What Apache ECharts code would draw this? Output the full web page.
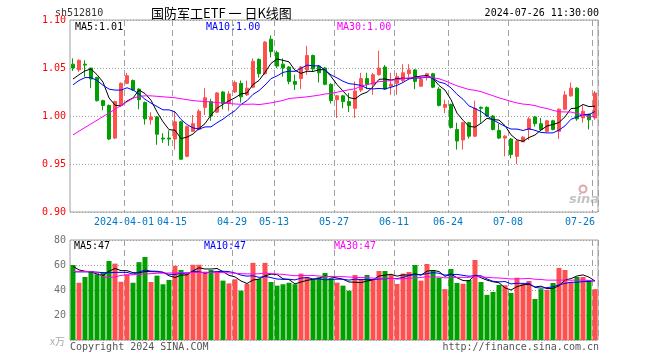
<!DOCTYPE html>
<html><head><meta charset="utf-8">
<script src="https://cdn.jsdelivr.net/npm/echarts@6/dist/echarts.min.js"></script>
<style>html,body{margin:0;padding:0;background:#fff}#c{width:660px;height:360px}</style>
</head><body><div id="c"></div>
<script>
const dates = [
'2024-03-19','2024-03-20','2024-03-21','2024-03-22','2024-03-25','2024-03-26','2024-03-27','2024-03-28','2024-03-29',
'2024-04-01','2024-04-02','2024-04-03','2024-04-08','2024-04-09','2024-04-10','2024-04-11','2024-04-12','2024-04-15','2024-04-16','2024-04-17','2024-04-18','2024-04-19','2024-04-22','2024-04-23','2024-04-24','2024-04-25','2024-04-26','2024-04-29','2024-04-30',
'2024-05-06','2024-05-07','2024-05-08','2024-05-09','2024-05-10','2024-05-13','2024-05-14','2024-05-15','2024-05-16','2024-05-17','2024-05-20','2024-05-21','2024-05-22','2024-05-23','2024-05-24','2024-05-27','2024-05-28','2024-05-29','2024-05-30','2024-05-31',
'2024-06-03','2024-06-04','2024-06-05','2024-06-06','2024-06-07','2024-06-11','2024-06-12','2024-06-13','2024-06-14','2024-06-17','2024-06-18','2024-06-19','2024-06-20','2024-06-21','2024-06-24','2024-06-25','2024-06-26','2024-06-27','2024-06-28',
'2024-07-01','2024-07-02','2024-07-03','2024-07-04','2024-07-05','2024-07-08','2024-07-09','2024-07-10','2024-07-11','2024-07-12','2024-07-15','2024-07-16','2024-07-17','2024-07-18','2024-07-19','2024-07-22','2024-07-23','2024-07-24','2024-07-25','2024-07-26'];

const opens = [1.054,1.048,1.054,1.050,1.040,1.016,1.011,0.977,1.011,1.034,
1.037,1.028,1.014,0.996,0.999,0.977,0.977,0.976,0.994,0.958,
0.984,0.986,1.009,1.015,1.004,1.025,1.013,1.025,1.034,1.022,
1.030,1.059,1.044,1.080,1.066,1.054,1.051,1.036,1.039,1.048,
1.063,1.052,1.050,1.033,1.017,1.021,1.015,1.008,1.027,1.039,
1.033,1.043,1.051,1.031,1.034,1.037,1.044,1.048,1.031,1.042,
1.044,1.028,1.009,1.012,0.986,0.975,0.993,0.979,1.009,1.009,
1.000,0.985,0.977,0.976,0.958,0.973,0.986,0.999,0.992,0.984,
0.995,0.984,1.007,1.021,1.029,0.998,1.002,0.998];
const closes = [1.050,1.058,1.053,1.0385,1.016,1.011,0.976,1.015,1.034,1.042,
1.027,1.017,0.997,0.999,0.981,0.976,0.976,0.994,0.955,0.989,
0.992,1.005,1.019,1.000,1.024,1.013,1.023,1.035,1.020,1.029,
1.057,1.044,1.077,1.067,1.052,1.050,1.036,1.033,1.051,1.063,
1.049,1.045,1.033,1.016,1.021,1.015,1.011,1.026,1.039,1.033,
1.043,1.050,1.028,1.033,1.041,1.045,1.048,1.036,1.038,1.044,
1.030,1.011,1.012,0.988,0.974,0.993,0.979,1.008,1.008,1.000,
0.986,0.977,0.979,0.960,0.974,0.978,0.997,0.992,0.986,0.995,
0.986,1.007,1.022,1.029,0.997,1.005,0.996,1.024];
const lows = [1.047,1.046,1.041,1.029,1.015,1.006,0.975,0.976,1.010,1.033,
1.026,1.007,0.991,0.991,0.970,0.972,0.969,0.965,0.9545,0.957,
0.984,0.985,1.001,0.995,1.003,1.007,1.005,1.024,1.014,1.021,
1.029,1.040,1.043,1.061,1.050,1.041,1.033,1.027,1.028,1.043,
1.046,1.035,1.032,1.013,0.998,1.008,1.004,0.998,1.025,1.028,
1.022,1.042,1.027,1.022,1.022,1.035,1.040,1.028,1.031,1.037,
1.029,1.010,1.003,0.987,0.965,0.965,0.9765,0.978,0.993,0.999,
0.985,0.976,0.958,0.956,0.950,0.973,0.975,0.989,0.985,0.983,
0.985,0.976,1.006,1.020,0.995,0.993,0.986,0.996];
const highs = [1.060,1.059,1.058,1.050,1.041,1.017,1.012,1.016,1.035,1.045,
1.038,1.029,1.015,1.004,1.000,0.982,0.985,1.005,0.995,0.990,
1.001,1.007,1.029,1.018,1.025,1.026,1.026,1.037,1.037,1.037,
1.060,1.060,1.078,1.084,1.068,1.060,1.052,1.043,1.052,1.073,
1.064,1.053,1.051,1.034,1.022,1.022,1.024,1.036,1.045,1.045,
1.045,1.068,1.053,1.045,1.045,1.054,1.054,1.049,1.041,1.045,
1.045,1.030,1.017,1.013,0.993,0.994,0.994,1.016,1.010,1.010,
1.001,0.992,0.980,0.977,0.975,0.979,0.999,1.000,0.998,0.996,
0.996,1.008,1.026,1.035,1.030,1.011,1.002,1.026];
const ma5 = [1.0385,1.0430,1.0470,1.0490,1.0431,1.0353,1.0189,1.0113,1.0104,1.0156,
1.0188,1.0270,1.0234,1.0164,1.0042,0.9940,0.9858,0.9852,0.9764,0.9780,
0.9812,0.9870,0.9920,1.0010,1.0080,1.0122,1.0158,1.0190,1.0230,1.0240,
1.0328,1.0370,1.0454,1.0548,1.0594,1.0580,1.0564,1.0476,1.0444,1.0466,
1.0464,1.0482,1.0482,1.0412,1.0328,1.0260,1.0192,1.0178,1.0224,1.0248,
1.0304,1.0382,1.0386,1.0374,1.0390,1.0394,1.0390,1.0406,1.0416,1.0422,
1.0392,1.0318,1.0270,1.0170,1.0030,0.9956,0.9892,0.9884,0.9924,0.9976,
0.9962,0.9958,0.9900,0.9804,0.9752,0.9736,0.9776,0.9802,0.9854,0.9896,
0.9912,0.9932,0.9992,1.0078,1.0082,1.0120,1.0098,1.0102];
const ma10 = [1.0325,1.0370,1.0400,1.0400,1.0370,1.0320,1.0280,1.0270,1.0270,1.0294,
1.0271,1.0230,1.0174,1.0134,1.0099,1.0064,1.0064,1.0043,0.9964,0.9911,
0.9876,0.9864,0.9886,0.9887,0.9930,0.9967,1.0014,1.0055,1.0120,1.0160,
1.0225,1.0264,1.0322,1.0389,1.0417,1.0454,1.0467,1.0465,1.0496,1.0530,
1.0522,1.0523,1.0479,1.0428,1.0397,1.0362,1.0337,1.0330,1.0318,1.0288,
1.0282,1.0287,1.0282,1.0299,1.0319,1.0349,1.0386,1.0396,1.0395,1.0406,
1.0393,1.0354,1.0338,1.0293,1.0226,1.0174,1.0105,1.0077,1.0047,1.0003,
0.9959,0.9925,0.9892,0.9864,0.9864,0.9849,0.9867,0.9851,0.9829,0.9824,
0.9824,0.9854,0.9897,0.9966,0.9989,1.0016,1.0015,1.0047];
const ma30 = [0.9803,0.9842,0.9880,0.9918,0.9956,0.9994,1.0032,1.0070,1.0108,1.0147,
1.0185,1.0205,1.0210,1.0210,1.0205,1.0200,1.0195,1.0190,1.0180,1.0170,
1.0160,1.0155,1.0150,1.0145,1.0140,1.0135,1.0130,1.0125,1.0122,1.0122,
1.0124,1.0119,1.0127,1.0137,1.0149,1.0162,1.0182,1.0188,1.0193,1.0200,
1.0208,1.0217,1.0229,1.0235,1.0248,1.0261,1.0273,1.0283,1.0311,1.0326,
1.0343,1.0358,1.0361,1.0372,1.0378,1.0388,1.0397,1.0397,1.0403,1.0408,
1.0399,1.0388,1.0366,1.0340,1.0314,1.0295,1.0276,1.0268,1.0253,1.0232,
1.0211,1.0189,1.0171,1.0152,1.0136,1.0124,1.0119,1.0108,1.0090,1.0078,
1.0059,1.0044,1.0042,1.0041,1.0026,1.0013,0.9996,0.9992];
const volumes = [60.0,45.8,50.4,55.2,52.6,53.8,63.2,61.1,46.6,52.6,
45.8,62.3,66.4,46.4,51.5,44.6,48.0,59.4,56.0,52.8,
60.2,60.2,54.6,56.0,54.9,47.5,45.3,48.6,39.5,44.9,
61.7,48.8,61.7,46.4,43.5,44.6,45.8,44.6,53.1,50.4,
48.8,50.1,53.6,49.6,45.9,43.5,39.5,52.0,48.6,52.0,
48.6,55.2,55.2,52.0,44.8,53.1,54.4,60.0,47.5,60.8,
56.0,49.8,40.7,56.8,45.6,45.0,48.0,64.0,46.4,36.1,
38.4,44.0,43.8,37.6,49.8,44.8,47.2,32.8,40.7,40.1,
45.6,57.7,56.0,46.4,50.4,50.4,48.0,40.7];
const volMa5 = [58.9,56.1,55.0,54.5,52.8,51.6,55.0,57.2,55.5,55.5,
53.9,53.7,54.8,54.7,54.5,54.3,51.4,50.0,51.9,52.1,
55.3,57.8,56.8,56.8,57.2,54.7,51.7,50.5,47.2,45.2,
48.0,48.7,51.4,52.7,52.4,49.0,48.4,44.9,46.4,47.7,
48.6,49.4,51.2,50.5,49.6,48.6,46.4,46.2,45.9,47.2,
48.1,51.2,51.9,52.6,51.1,52.1,51.9,52.9,51.9,55.1,
55.7,54.8,50.9,52.8,49.8,47.6,47.3,51.9,49.8,47.9,
46.6,45.8,41.7,40.0,42.7,44.1,44.6,42.4,43.1,41.1,
41.3,43.4,48.0,49.1,51.2,52.1,50.3,47.2];
const volMa10 = [54.5,54.5,54.5,54.5,54.3,53.9,53.9,54.1,54.1,54.1,
52.7,54.4,56.0,55.1,55.0,54.0,52.6,52.4,53.4,53.4,
54.8,54.6,53.4,54.4,54.7,55.0,54.7,53.6,51.9,51.1,
51.4,50.1,50.9,49.9,48.8,48.5,48.6,48.1,49.5,50.0,
48.8,48.9,48.1,48.4,48.7,48.6,47.9,48.7,48.3,48.4,
48.4,48.8,49.0,49.3,49.1,50.1,51.6,52.4,52.2,53.1,
53.9,53.4,51.9,52.4,52.5,51.7,51.0,51.5,51.4,48.8,
47.0,46.5,46.8,44.9,45.4,45.3,45.3,42.1,41.5,41.9,
42.6,44.1,45.3,46.2,46.2,46.7,46.8,47.6];
const volMa30 = [54.8,54.8,54.8,54.6,53.9,50.6,50.0,50.4,51.7,52.0,
52.2,52.6,52.8,53.1,53.4,53.5,53.6,53.7,53.8,53.9,
54.0,54.1,54.1,54.1,54.1,53.9,53.7,53.4,53.1,52.9,
52.9,53.0,53.5,53.1,52.8,52.5,51.9,51.4,51.6,51.5,
51.6,51.2,50.8,50.9,50.7,50.7,50.4,50.1,49.9,49.9,
49.5,49.4,49.4,49.3,48.8,49.0,49.4,49.7,50.0,50.6,
50.4,50.4,49.7,50.0,50.1,50.1,50.1,50.8,50.6,50.1,
49.8,49.6,49.3,48.8,49.0,49.0,49.3,48.6,48.4,47.9,
47.9,47.9,48.0,47.8,48.0,47.9,47.7,47.0];
const tickLabels = {'2024-04-01':'2024-04-01','2024-04-15':'04-15','2024-04-29':'04-29','2024-05-13':'05-13','2024-05-27':'05-27','2024-06-11':'06-11','2024-06-24':'06-24','2024-07-08':'07-08','2024-07-26':'07-26'};
const priceTicks = [0.90,0.95,1.00,1.05,1.10];
const volTicks = [0,20,40,60,80];

const RED = '#ff5050', GREEN = '#00a000', GRAY = '#a0a0a0';
const MONO = '"DejaVu Sans Mono", monospace';
const last = dates.length - 1;
const isTick = (i) => tickLabels[dates[i]] !== undefined;

const chart = echarts.init(document.getElementById('c'), null, {renderer: 'canvas'});
const lineSeries = (data, color, xi, yi) => ({type: 'line', data, xAxisIndex: xi, yAxisIndex: yi, symbol: 'none', silent: true,
  lineStyle: {color, width: 1}, itemStyle: {color}, z: 5, animation: false});
const vSplit = {show: true, interval: (i) => isTick(i), lineStyle: {color: GRAY, width: 1, type: [6, 4]}};
const txt = (x, y, text, fill, font, align) => ({type: 'text', x, y, silent: true,
  style: {text, fill, font, textAlign: align || 'left', textVerticalAlign: 'middle'}});

chart.setOption({
  animation: false,
  backgroundColor: '#ffffff',
  grid: [
    {left: 70, top: 20, width: 528, height: 192, show: true, borderColor: GRAY, borderWidth: 1},
    {left: 70, top: 240, width: 528, height: 100, show: true, borderColor: GRAY, borderWidth: 1}
  ],
  xAxis: [
    {type: 'category', gridIndex: 0, data: dates, boundaryGap: true,
     axisLine: {show: false}, axisTick: {show: false},
     axisLabel: {interval: (i) => isTick(i), margin: 5,
       formatter: (v, i) => { const t = tickLabels[v]; if (!t) return ''; return i === last ? '{r|' + t + '}' : '{c|' + t + '}'; },
       rich: {c: {padding: [0, 6, 0, 0], color: '#0078c8', fontFamily: MONO, fontSize: 10},
              r: {padding: [0, 30, 0, 0], color: '#0078c8', fontFamily: MONO, fontSize: 10}}},
     splitLine: vSplit},
    {type: 'category', gridIndex: 1, data: dates, boundaryGap: true,
     axisLine: {show: false}, axisTick: {show: false}, axisLabel: {show: false}, splitLine: vSplit}
  ],
  yAxis: [
    {type: 'value', gridIndex: 0, min: priceTicks[0], max: priceTicks[priceTicks.length - 1], interval: 0.05,
     axisLine: {show: false}, axisTick: {show: false},
     axisLabel: {color: '#ff0000', fontFamily: MONO, fontSize: 10, margin: 4, formatter: (v) => v.toFixed(2)},
     splitLine: {show: true, lineStyle: {color: GRAY, width: 1, type: [1, 2]}}},
    {type: 'value', gridIndex: 1, min: volTicks[0], max: volTicks[volTicks.length - 1], interval: 20,
     axisLine: {show: false}, axisTick: {show: false},
     axisLabel: {color: '#707070', fontFamily: MONO, fontSize: 10, margin: 4,
       formatter: (v) => v > 0 ? String(v) : ''},
     splitLine: {show: true, lineStyle: {color: GRAY, width: 1, type: [1, 2]}}}
  ],
  series: [
    {type: 'candlestick', xAxisIndex: 0, yAxisIndex: 0, barWidth: 4,
     data: opens.map((o, i) => [o, closes[i], lows[i], highs[i]]),
     itemStyle: {color: RED, color0: GREEN, borderColor: RED, borderColor0: GREEN, borderWidth: 1}},
    lineSeries(ma5, '#000000', 0, 0),
    lineSeries(ma10, '#0000ff', 0, 0),
    lineSeries(ma30, '#ff00ff', 0, 0),
    {type: 'bar', xAxisIndex: 1, yAxisIndex: 1, barWidth: 5,
     data: volumes.map((v, i) => ({value: v, itemStyle: {color: closes[i] >= opens[i] ? RED : GREEN}}))},
    lineSeries(volMa5, '#000000', 1, 1),
    lineSeries(volMa10, '#0000ff', 1, 1),
    lineSeries(volMa30, '#ff00ff', 1, 1)
  ],
  graphic: [
    txt(55, 13, 'sh512810', '#333', '10px ' + MONO),
    txt(151, 13, '国防军工ETF 一 日K线图', '#000', '13px "Noto Sans CJK SC"'),
    txt(599, 13, '2024-07-26 11:30:00', '#000', '10px ' + MONO, 'right'),
    txt(75, 27, 'MA5:' + ma5[last].toFixed(2), '#000', '10px ' + MONO),
    txt(206, 27, 'MA10:' + ma10[last].toFixed(2), '#0000ff', '10px ' + MONO),
    txt(337, 27, 'MA30:' + ma30[last].toFixed(2), '#ff00ff', '10px ' + MONO),
    txt(74, 246, 'MA5:' + Math.floor(volMa5[last]), '#000', '10px ' + MONO),
    txt(204, 246, 'MA10:' + Math.floor(volMa10[last]), '#0000ff', '10px ' + MONO),
    txt(334, 246, 'MA30:' + Math.floor(volMa30[last]), '#ff00ff', '10px ' + MONO),
    txt(65, 341, 'x万', '#aaa', '10px "Noto Sans CJK SC"', 'right'),
    txt(70, 347, 'Copyright 2024 SINA.COM', '#555', '10px ' + MONO),
    txt(599, 347, 'http://finance.sina.com.cn', '#555', '10px ' + MONO, 'right'),
    {type: 'circle', shape: {cx: 583, cy: 189, r: 3.5}, silent: true, style: {fill: 'none', stroke: '#e0a8a8', lineWidth: 2}},
    txt(584, 200, 'sina', '#c4c4c4', 'italic bold 13px "DejaVu Sans"', 'center')
  ]
});
</script></body></html>
